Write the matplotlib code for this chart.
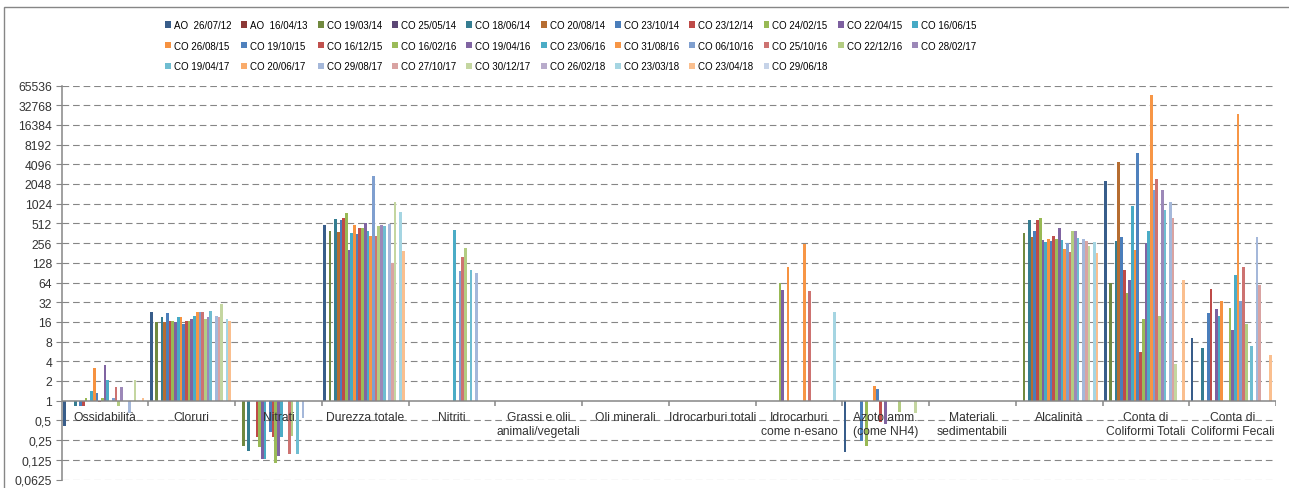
import numpy as np
import matplotlib
matplotlib.use("Agg")
import matplotlib.pyplot as plt
from matplotlib.patches import Patch, Rectangle

plt.rcParams['font.family'] = ['Liberation Sans', 'DejaVu Sans']

N = np.nan

categories = ["Ossidabilità", "Cloruri", "Nitrati", "Durezza totale", "Nitriti",
              "Grassi e olii\nanimali/vegetali", "Oli minerali", "Idrocarburi totali",
              "Idrocarburi\ncome n-esano", "Azoto amm.\n(come NH4)", "Materiali\nsedimentabili",
              "Alcalinità", "Conta di\nColiformi Totali", "Conta di\nColiformi Fecali"]

series = ["AO  26/07/12", "AO  16/04/13", "CO 19/03/14", "CO 25/05/14", "CO 18/06/14",
          "CO 20/08/14", "CO 23/10/14", "CO 23/12/14", "CO 24/02/15", "CO 22/04/15",
          "CO 16/06/15", "CO 26/08/15", "CO 19/10/15", "CO 16/12/15", "CO 16/02/16",
          "CO 19/04/16", "CO 23/06/16", "CO 31/08/16", "CO 06/10/16", "CO 25/10/16",
          "CO 22/12/16", "CO 28/02/17", "CO 19/04/17", "CO 20/06/17", "CO 29/08/17",
          "CO 27/10/17", "CO 30/12/17", "CO 26/02/18", "CO 23/03/18", "CO 23/04/18",
          "CO 29/06/18"]

colors = ['#385D8A', '#8C3836', '#71893F', '#5C4776', '#357D91', '#B66D31',
          '#4A7EBB', '#BE4B48', '#98B954', '#7D60A0', '#46AAC5', '#F69240',
          '#4F81BD', '#C0504D', '#9BBB59', '#8064A2', '#4BACC6', '#F79646',
          '#7F9FCF', '#CD7371', '#B3CC82', '#9C88B8', '#6FBDD1', '#F9AB6B',
          '#A5B8DA', '#D9A3A2', '#C4D6A0', '#B8ABCB', '#A5D5E2', '#FABF8F',
          '#C6D3E8']

# one list per category, one value per series (nan = no data)
ossidabilita = [0.41, N, N, N, 0.82, N, 0.82, 0.82, 1.1, N, 1.4, 3.2, 1.3, 0.96, 1.1, 3.5,
                2.1, N, 1.1, 1.6, 0.83, 1.6, N, N, 0.66, N, 2.1, N, N, 1.1, N]
cloruri = [22.9, N, 15.7, N, 18.8, 16.1, 21.6, 16.7, 16.7, 16.1, 18.8, 19.0, 14.8, 16.7, 16.7,
           17.7, 19.4, 22.4, 22.4, 22.4, 17.7, 18.8, 23.7, N, 19.4, 18.8, 30.0, N, 17.7, 16.7, N]
nitrati = [N, N, 0.205, N, 0.172, N, N, 0.275, 0.194, 0.128, 0.128, N, 0.33, 0.275, 0.112,
           0.144, 0.275, N, N, 0.153, 0.29, N, 0.153, N, 0.55, N, N, N, N, N, N]
durezza = [489, N, 388, N, 597, 385, 577, 612, 737, 203, 360, 489, 354, 435, 435, 512,
           394, 333, 2680, 327, 472, 489, 472, N, 502, 127, 1100, N, 772, 196, N]
nitriti = [N, N, N, N, N, N, N, N, N, N, N, N, N, N, N, N,
           410, N, 97, 155, 214, N, 99, N, 89, N, N, N, N, N, N]
grassi = [N] * 31
oli_minerali = [N] * 31
idrocarburi_tot = [N] * 31
idrocarburi_esano = [N, N, N, N, N, N, N, N, 62, 49, N, 109, N, N, N, N,
                     N, 248, N, 48, N, N, N, N, N, N, N, N, 23, N, N]
azoto = [0.166, N, N, N, N, N, 0.245, N, 0.205, N, N, 1.69, 1.5, 0.466, N, 0.44,
         N, N, N, N, 0.68, N, N, N, N, N, 0.64, N, N, N, N]
materiali = [N] * 31
alcalinita = [N, N, 362, N, 577, 321, 396, 583, 618, 285, 263, 296, 273, 329, 296, 431,
              285, 208, 260, 189, 388, 390, 303, N, 296, 276, 229, N, 269, 179, N]
coliformi_tot = [2250, N, 63, N, 273, 4440, 317, 100, 45, 69, 935, 198, 6100, 5.5, 18, 256,
                 392, 46400, 1640, 2470, 19.7, 1640, 811, N, 1090, 620, 3.7, N, N, 69, N]
coliformi_fec = [9.0, N, N, N, 6.5, N, 21.6, 51, N, 25, 19.5, 33, N, N, 26, 11.9,
                 82, 24300, 33, 109, 14.7, N, 6.9, N, 314, 59, N, N, N, 5.0, N]

data = np.array([ossidabilita, cloruri, nitrati, durezza, nitriti, grassi, oli_minerali,
                 idrocarburi_tot, idrocarburi_esano, azoto, materiali, alcalinita,
                 coliformi_tot, coliformi_fec], dtype=float)

yticks = [2.0 ** p for p in range(-4, 17)]

W, H = 1289, 489
fig = plt.figure(figsize=(W / 100, H / 100), dpi=100)
ax = fig.add_axes([61.7 / W, 1 - 480.5 / H, (1276 - 61.7) / W, (480.5 - 86.5) / H])

grey = '#868686'
ncat = len(categories)
nser = len(series)
w = 1.0 / (nser + 1)
xbase = np.arange(ncat)

for i in range(nser):
    vals = data[:, i]
    m = ~np.isnan(vals)
    ax.bar(xbase[m] + (i + 1) * w, vals[m] - 1, bottom=1, width=w,
           color=colors[i], linewidth=0, zorder=2)

ax.set_yscale('log', base=2)
ax.set_ylim(0.0625, 65536)
ax.set_xlim(0, ncat)
ax.set_yticks(yticks)
ax.set_yticklabels([('%g' % v).replace('.', ',') for v in yticks])
ax.minorticks_off()
ax.set_xticks([])
ax.tick_params(axis='y', length=4, color=grey, labelsize=8.7, labelcolor='#333333', pad=3)

for v in yticks:
    if v != 1:
        ax.axhline(v, color=grey, lw=0.8, ls=(0, (6, 3.5)), zorder=1)
ax.axhline(1, color=grey, lw=1.1, zorder=3)
ax.vlines(np.arange(1, ncat + 1), 2 ** -0.25, 1, color=grey, lw=1.1, zorder=3)

for s in ['top', 'right', 'bottom']:
    ax.spines[s].set_visible(False)
ax.spines['left'].set_color(grey)
ax.spines['left'].set_linewidth(1.1)

for k, lab in enumerate(categories):
    ax.text(k + 0.5, 2 ** -0.52, lab, ha='center', va='top', fontsize=8.7,
            color='#333333', linespacing=1.2, zorder=4)

handles = [Patch(facecolor=c, edgecolor='none') for c in colors]
order = [j + 11 * r for j in range(11) for r in range(3) if j + 11 * r < nser]
fig.legend([handles[o] for o in order], [series[o] for o in order], ncol=11,
           loc='upper left', bbox_to_anchor=(165 / W, 1 - 21 / H), frameon=False,
           fontsize=7, handlelength=0.6, handleheight=0.6, handletextpad=0.3,
           columnspacing=1.05, labelspacing=1.1, borderpad=0, borderaxespad=0)

fig.patches.append(Rectangle((4 / W, -0.05), 1.1, 1 - 8 / H + 0.05, transform=fig.transFigure,
                             fill=False, edgecolor=grey, lw=1.0))

fig.savefig('out.png', dpi=100)
